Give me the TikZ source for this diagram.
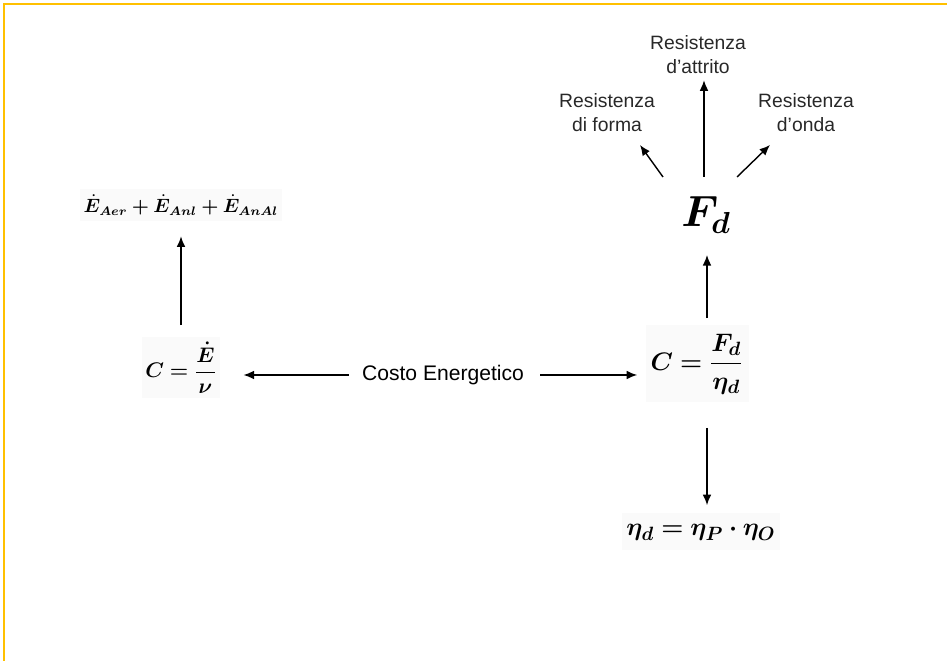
\documentclass[tikz,border=0pt]{standalone}
\usepackage{fontspec}
\setmainfont{Liberation Sans}
\usepackage{amsmath, bm}
\usepackage{tikz}
\usetikzlibrary{arrows.meta, positioning}
\definecolor{frameyellow}{RGB}{255, 192, 0}
\definecolor{inkgray}{RGB}{40, 40, 40}
\definecolor{boxgray}{RGB}{250, 250, 250}
\newcommand{\apos}{{\char"0027}}
\tikzset{
  arr/.style={-{Latex[length=6pt, width=5pt]}, line width=0.8pt, black},
  formula/.style={fill=boxgray, inner sep=2pt},
  label/.style={align=center, text=inkgray, font=\fontsize{11}{13.6}\selectfont}
}

\begin{document}
\begin{tikzpicture}[x=0.02cm, y=-0.02cm]
  \useasboundingbox (0,0) rectangle (947,661);
  \draw[frameyellow, line width=1.6pt] (4,661) -- (4,4) -- (947,4);

  % left branch
  \node[formula, minimum width=182*0.02cm, minimum height=32*0.02cm] (sum) at (181,205)
       {\fontsize{10.5}{13}\selectfont $\bm{\dot{E}_{Aer}+\dot{E}_{Anl}+\dot{E}_{AnAl}}$};
  \node[formula, minimum width=72*0.02cm, minimum height=61*0.02cm] (cl) at (181,368)
       {\fontsize{12}{15}\selectfont $\bm{C=\dfrac{\dot{E}}{\nu}}$};
  \node[text=black, font=\fontsize{12}{14}\selectfont] (costo) at (443,375) {Costo Energetico};

  % right branch
  \node[formula, minimum width=103*0.02cm, minimum height=77*0.02cm] (cr) at (697,364)
       {\fontsize{15.5}{19}\selectfont $\bm{C=\dfrac{F_d}{\eta_d}}$};
  \node (fd) at (706,215) {\fontsize{26}{30}\selectfont $\bm{F_d}$};
  \node[formula, minimum width=158*0.02cm, minimum height=37*0.02cm] (eta) at (701,532)
       {\fontsize{15}{18}\selectfont $\bm{\eta_d=\eta_P\cdot\eta_O}$};

  \node[label] (attrito) at (698,55) {Resistenza\\d\apos attrito};
  \node[label] (forma) at (607,113) {Resistenza\\di forma};
  \node[label] (onda) at (806,113) {Resistenza\\d\apos onda};

  \coordinate (fdtop) at ([xshift=-2*0.02cm, yshift=38*0.02cm]fd.center);

  \draw[arr, shorten <=12*0.02cm, shorten >=15*0.02cm] (cl.north) -- (sum.south);
  \draw[arr, shorten <=7*0.02cm] (costo.west) -- ([xshift=23*0.02cm]costo.west -| cl.east);
  \draw[arr, shorten <=10*0.02cm, shorten >=8*0.02cm] (costo.east) -- (costo.east -| cr.west);
  \draw[arr, shorten <=7*0.02cm] ([xshift=10*0.02cm]cr.north) -- ([xshift=1*0.02cm, yshift=-40*0.02cm]fd.center);
  \draw[arr, shorten <=25*0.02cm, shorten >=8*0.02cm] ([xshift=10*0.02cm]cr.south) -- ([xshift=6*0.02cm]eta.north);
  \draw[arr] (fdtop) -- (fdtop |- attrito.south);
  \draw[arr] ([xshift=-43*0.02cm, yshift=38*0.02cm]fd.center) -- ([shift={(33,32)}]forma.center);
  \draw[arr] ([xshift=31*0.02cm, yshift=38*0.02cm]fd.center) -- ([shift={(-36,32)}]onda.center);
\end{tikzpicture}
\end{document}
